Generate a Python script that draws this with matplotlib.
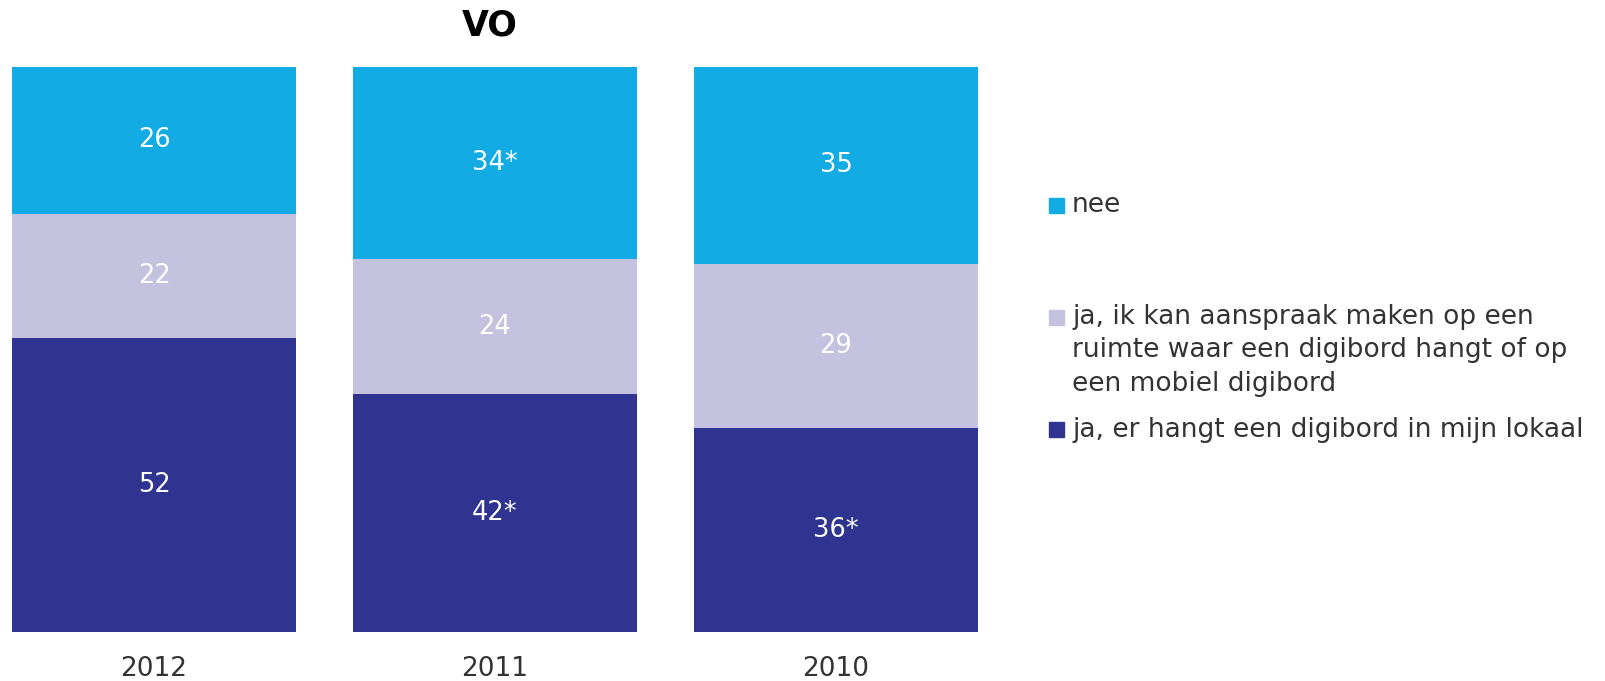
import matplotlib.pyplot as plt
from matplotlib.patches import Rectangle

plt.rcParams['font.family'] = ['DejaVu Sans']

# data
years = ["2012", "2011", "2010"]
series = ["ja, er hangt een digibord in mijn lokaal",
          "ja, ik kan aanspraak maken op een\nruimte waar een digibord hangt of op\neen mobiel digibord",
          "nee"]
ja_lokaal = [52, 42, 36]
ja_ruimte = [22, 24, 29]
nee = [26, 34, 35]
lbl_lokaal = ["52", "42*", "36*"]
lbl_ruimte = ["22", "24", "29"]
lbl_nee = ["26", "34*", "35"]
colors = ["#2E348F", "#C4C2DF", "#13ABE3"]

W, H = 1606, 681
fig = plt.figure(figsize=(W / 100, H / 100), dpi=100)
ax = fig.add_axes([12 / W, 1 - 632 / H, 966 / W, 565.5 / H])

x = range(len(years))
width = 0.833
bottom = [0, 0, 0]
for vals, labels, col in [(ja_lokaal, lbl_lokaal, colors[0]),
                          (ja_ruimte, lbl_ruimte, colors[1]),
                          (nee, lbl_nee, colors[2])]:
    bars = ax.bar(x, vals, width, bottom=bottom, color=col)
    ax.bar_label(bars, labels=labels, label_type="center", color="white", fontsize=18.5)
    bottom = [b + v for b, v in zip(bottom, vals)]

ax.set_xlim(-width / 2, 2 + width / 2)
ax.set_ylim(0, 100)
ax.set_xticks(list(x))
ax.set_xticklabels(years, fontsize=19, color="#333333")
ax.tick_params(axis="x", length=0, pad=17)
ax.set_yticks([])
for s in ax.spines.values():
    s.set_visible(False)

fig.text(490 / W, 1 - 35 / H, "VO", ha="center", va="baseline", fontsize=25, fontweight="bold", color="black")

# legend (top to bottom: nee, ruimte, lokaal); y = baseline of last line
leg_base = [212, 391, 437]
sq_y = [205.5, 317.5, 429]
for lab, col, ty, sy in zip(series[::-1], colors[::-1], leg_base, sq_y):
    fig.patches.append(Rectangle((1049 / W, 1 - (sy + 7.5) / H), 15 / W, 15 / H,
                                 transform=fig.transFigure, color=col))
    fig.text(1072 / W, 1 - ty / H, lab, ha="left", va="baseline", fontsize=19,
             color="#333333", linespacing=1.38)

fig.savefig("out.png", dpi=100)
